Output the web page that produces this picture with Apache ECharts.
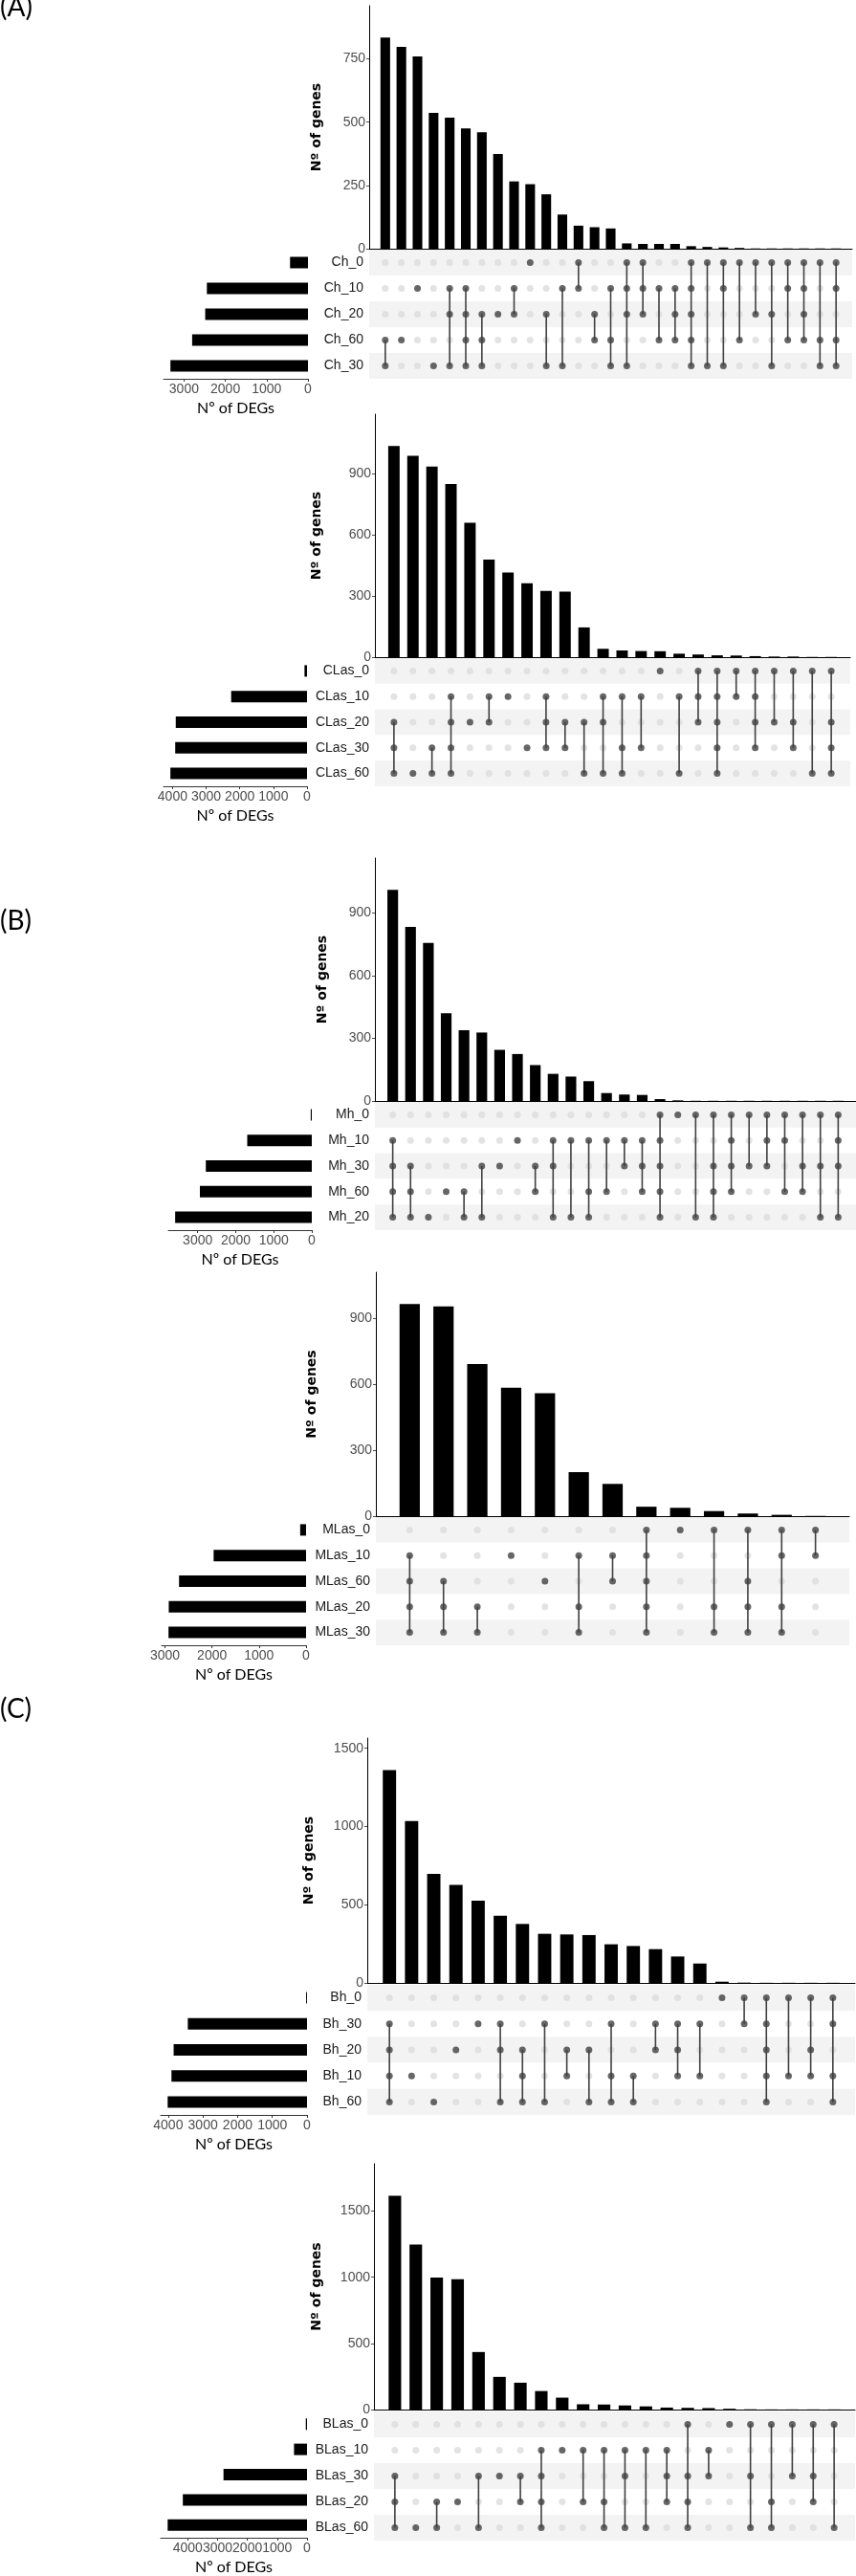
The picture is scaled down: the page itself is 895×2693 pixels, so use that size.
<!DOCTYPE html>
<html lang="en">
<head>
    <meta charset="UTF-8">
    <title>UpSet DEGs</title>
    <style>
        body{ margin:0; background:#fff; }
        #main{ width:895px; height:2693px; }
    </style>
</head>
<body>
    <div id="main"></div>
    <script src="https://cdn.jsdelivr.net/npm/echarts@6/dist/echarts.min.js"></script>
    <script>
        // (A) Ch
        var chSets = ['Ch_0', 'Ch_10', 'Ch_20', 'Ch_60', 'Ch_30'];
        var chSizes = [434, 2447, 2487, 2803, 3329];
        var chCounts = [835, 798, 760, 537, 518, 475, 460, 374, 266, 255, 215, 135, 91, 85, 80, 21, 19, 19, 19, 10, 7, 5, 3, 1, 1, 1, 1, 1, 1];
        var chCombos = [[3,4],[3],[1],[4],[1,2,4],[1,2,3,4],[2,3,4],[2],[1,2],[0],[2,4],[1,4],[0,1],[2,3],[1,3,4],[0,1,2,4],[0,1,2],[1,3],[1,2,3],[0,1,2,3,4],[0,4],[0,1,4],[0,3],[0,2],[0,2,4],[0,1,3],[0,1,2,3],[0,3,4],[0,1,3,4]];
        var chTicks = [0, 250, 500, 750];
        var chSizeTicks = [0, 1000, 2000, 3000];

        // (A) CLas
        var clasSets = ['CLas_0', 'CLas_10', 'CLas_20', 'CLas_30', 'CLas_60'];
        var clasSizes = [75, 2256, 3904, 3920, 4064];
        var clasCounts = [1037, 988, 935, 850, 660, 479, 416, 363, 325, 322, 146, 41, 33, 30, 29, 17, 13, 9, 8, 5, 3, 3, 1, 1];
        var clasCombos = [[2,3,4],[4],[3,4],[1,2,3,4],[2],[1,2],[1],[3],[1,2,3],[2,3],[2,4],[1,2,4],[1,3,4],[1,3],[0],[1,4],[0,1,2],[0,1,2,3,4],[0,1],[0,1,2,3],[0,2],[0,2,3],[0,4],[0,2,3,4]];
        var clasTicks = [0, 300, 600, 900];
        var clasSizeTicks = [0, 1000, 2000, 3000, 4000];

        // (B) Mh
        var mhSets = ['Mh_0', 'Mh_10', 'Mh_30', 'Mh_60', 'Mh_20'];
        var mhSizes = [28, 1697, 2786, 2942, 3592];
        var mhCounts = [1012, 834, 757, 420, 339, 328, 245, 225, 172, 130, 117, 95, 38, 31, 29, 9, 3, 1, 1, 1, 1, 1, 1, 1, 1, 1];
        var mhCombos = [[1,2,3,4],[2,3,4],[4],[3],[3,4],[2,4],[2],[1],[2,3],[1,2,4],[1,4],[1,3,4],[1,3],[1,2],[1,2,3],[0,1,2,3,4],[0],[0,4],[0,2,3,4],[0,1,2,3],[0,2],[0,1,2],[0,1,3],[0,2,3],[0,2,4],[0,1,2,4]];
        var mhTicks = [0, 300, 600, 900];
        var mhSizeTicks = [0, 1000, 2000, 3000];

        // (B) MLas
        var mlasSets = ['MLas_0', 'MLas_10', 'MLas_60', 'MLas_20', 'MLas_30'];
        var mlasSizes = [125, 1966, 2701, 2920, 2925];
        var mlasCounts = [967, 956, 693, 586, 560, 201, 147, 43, 38, 23, 12, 6, 1];
        var mlasCombos = [[1,2,3,4],[2,3,4],[3,4],[1],[2],[1,3,4],[1,2],[0,1,2,3,4],[0],[0,3,4],[0,2,3,4],[0,1,3,4],[0,1]];
        var mlasTicks = [0, 300, 600, 900];
        var mlasSizeTicks = [0, 1000, 2000, 3000];

        // (C) Bh
        var bhSets = ['Bh_0', 'Bh_30', 'Bh_20', 'Bh_10', 'Bh_60'];
        var bhSizes = [25, 3435, 3843, 3906, 4016];
        var bhCounts = [1361, 1035, 697, 626, 526, 430, 377, 314, 310, 306, 247, 236, 216, 169, 124, 8, 2, 1, 1, 1, 1];
        var bhCombos = [[1,2,3,4],[3],[4],[2],[1],[1,2,4],[2,3,4],[1,4],[2,3],[2,4],[1,3,4],[3,4],[1,2],[1,2,3],[1,3],[0],[0,1],[0,1,2,3,4],[0,3],[0,2,3],[0,1,3,4]];
        var bhTicks = [0, 500, 1000, 1500];
        var bhSizeTicks = [0, 1000, 2000, 3000, 4000];

        // (C) BLas
        var blasSets = ['BLas_0', 'BLas_10', 'BLas_30', 'BLas_20', 'BLas_60'];
        var blasSizes = [40, 436, 2800, 4164, 4673];
        var blasCounts = [1616, 1248, 997, 985, 435, 247, 203, 140, 90, 40, 38, 31, 24, 15, 13, 11, 6, 2, 1, 1, 1, 1];
        var blasCombos = [[2,3,4],[4],[3,4],[3],[2,4],[2],[2,3],[1,2,3,4],[1],[1,3],[1,3,4],[1,2,4],[1,4],[1,2,3],[0,2,3,4],[1,2],[0],[0,2,4],[0,3,4],[0,2],[0,2,3],[0,4]];
        var blasTicks = [0, 500, 1000, 1500];
        var blasSizeTicks = [0, 1000, 2000, 3000, 4000];

        var panels = [
            {sets: chSets, sizes: chSizes, counts: chCounts, combos: chCombos, ticks: chTicks, sizeTicks: chSizeTicks},
            {sets: clasSets, sizes: clasSizes, counts: clasCounts, combos: clasCombos, ticks: clasTicks, sizeTicks: clasSizeTicks},
            {sets: mhSets, sizes: mhSizes, counts: mhCounts, combos: mhCombos, ticks: mhTicks, sizeTicks: mhSizeTicks},
            {sets: mlasSets, sizes: mlasSizes, counts: mlasCounts, combos: mlasCombos, ticks: mlasTicks, sizeTicks: mlasSizeTicks},
            {sets: bhSets, sizes: bhSizes, counts: bhCounts, combos: bhCombos, ticks: bhTicks, sizeTicks: bhSizeTicks},
            {sets: blasSets, sizes: blasSizes, counts: blasCounts, combos: blasCombos, ticks: blasTicks, sizeTicks: blasSizeTicks}
        ];

        // pixel layout of each panel
        var layout = [
            {left: 386, right: 891, top: 6,    base: 260,  matTop: 261,  matH: 135, setLeft: 171, setRight: 322, gap: 48},
            {left: 392, right: 889, top: 433,  base: 687,  matTop: 688,  matH: 134, setLeft: 171, setRight: 321, gap: 54},
            {left: 392, right: 895, top: 897,  base: 1151, matTop: 1152, matH: 134, setLeft: 176, setRight: 326, gap: 48},
            {left: 393, right: 888, top: 1330, base: 1585, matTop: 1586, matH: 134, setLeft: 169, setRight: 320, gap: 60},
            {left: 384, right: 894, top: 1817, base: 2073, matTop: 2075, matH: 136, setLeft: 168, setRight: 321, gap: 54},
            {left: 391, right: 894, top: 2262, base: 2519, matTop: 2521, matH: 135, setLeft: 168, setRight: 321, gap: 53}
        ];

        // plain numbers, no thousands separator
        function plain(v){ return String(v); }

        var tickFont = {fontFamily: 'Liberation Sans', fontSize: 14, color: '#4d4d4d', formatter: plain, hideOverlap: false};
        var grids = [], xAxes = [], yAxes = [], series = [];

        panels.forEach(function(p, k){
            var L = layout[k];
            var n = p.counts.length;
            var w = L.right - L.left;
            var step = w / (n + 1);
            var g0 = grids.length;

            // intersection bars
            grids.push({left: L.left, top: L.top, width: w, height: L.base - L.top});
            xAxes.push({gridIndex: g0, type: 'value', min: 0, max: n + 1,
                axisLine: {show: true, lineStyle: {color: '#000', width: 1}},
                axisTick: {show: false}, axisLabel: {show: false}, splitLine: {show: false}});
            yAxes.push({gridIndex: g0, type: 'value', min: 0, max: Math.max.apply(null, p.counts) * 1.15,
                name: 'Nº of genes', nameLocation: 'middle', nameGap: L.gap,
                nameTextStyle: {fontFamily: 'DejaVu Sans', fontSize: 14, fontWeight: 'bold', color: '#000'},
                axisLine: {show: true, lineStyle: {color: '#000', width: 1}},
                axisTick: {show: true, length: 3, customValues: p.ticks, lineStyle: {color: '#4d4d4d'}},
                axisLabel: Object.assign({customValues: p.ticks, margin: 4}, tickFont),
                splitLine: {show: false}});
            series.push({type: 'bar', xAxisIndex: g0, yAxisIndex: g0, barWidth: step * 0.6,
                itemStyle: {color: '#000'},
                data: p.counts.map(function(v, i){ return [i + 1, v]; })});

            // matrix
            var g1 = g0 + 1;
            grids.push({left: L.left, top: L.matTop, width: w, height: L.matH});
            xAxes.push({gridIndex: g1, type: 'value', min: 0, max: n + 1, show: false});
            yAxes.push({gridIndex: g1, type: 'category', data: p.sets, inverse: true,
                axisLine: {show: false}, axisTick: {show: false},
                axisLabel: {fontFamily: 'Liberation Sans', fontSize: 14, color: '#1a1a1a', margin: 6},
                splitLine: {show: false},
                splitArea: {show: true, areaStyle: {color: ['#f3f3f3', '#ffffff']}}});
            var empty = [], full = [], links = [];
            p.combos.forEach(function(c, i){
                p.sets.forEach(function(s, r){
                    if (c.indexOf(r) >= 0) full.push([i + 1, r]);
                    else empty.push([i + 1, r]);
                });
                if (c.length > 1) links.push([i + 1, Math.min.apply(null, c), Math.max.apply(null, c)]);
            });
            series.push({type: 'scatter', xAxisIndex: g1, yAxisIndex: g1, symbolSize: 7,
                itemStyle: {color: '#dcdcdc'}, data: empty, z: 2});
            series.push({type: 'custom', xAxisIndex: g1, yAxisIndex: g1, z: 3, data: links,
                renderItem: function(params, api){
                    var a = api.coord([api.value(0), api.value(1)]);
                    var b = api.coord([api.value(0), api.value(2)]);
                    return {type: 'line', shape: {x1: a[0], y1: a[1], x2: b[0], y2: b[1]},
                        style: {stroke: '#404040', lineWidth: 1.6}};
                }});
            series.push({type: 'scatter', xAxisIndex: g1, yAxisIndex: g1, symbolSize: 7,
                itemStyle: {color: '#404040'}, data: full, z: 4});

            // set sizes
            var g2 = g0 + 2;
            grids.push({left: L.setLeft, top: L.matTop, width: L.setRight - L.setLeft, height: L.matH});
            xAxes.push({gridIndex: g2, type: 'value', inverse: true, min: 0, max: Math.max.apply(null, p.sizes) * 1.05,
                name: 'Nº of DEGs', nameLocation: 'middle', nameGap: 23,
                nameTextStyle: {fontFamily: 'Lato', fontSize: 16, color: '#000'},
                axisLine: {show: true, lineStyle: {color: '#333', width: 1}},
                axisTick: {show: true, length: 3, customValues: p.sizeTicks, lineStyle: {color: '#333'}},
                axisLabel: Object.assign({customValues: p.sizeTicks, margin: 4}, tickFont),
                splitLine: {show: false}});
            yAxes.push({gridIndex: g2, type: 'category', data: p.sets, inverse: true, show: false});
            series.push({type: 'bar', xAxisIndex: g2, yAxisIndex: g2, barWidth: 12,
                itemStyle: {color: '#000'}, data: p.sizes});
        });

        var myecharts = echarts.init(document.getElementById('main'));
        myecharts.setOption({
            animation: false,
            grid: grids,
            xAxis: xAxes,
            yAxis: yAxes,
            series: series,
            graphic: [
                {type: 'text', left: 0, top: -6, style: {text: '(A)', fontFamily: 'Lato', fontSize: 28, fill: '#000'}},
                {type: 'text', left: 0, top: 949, style: {text: '(B)', fontFamily: 'Lato', fontSize: 28, fill: '#000'}},
                {type: 'text', left: 0, top: 1773, style: {text: '(C)', fontFamily: 'Lato', fontSize: 28, fill: '#000'}}
            ]
        });
    </script>
</body>
</html>
